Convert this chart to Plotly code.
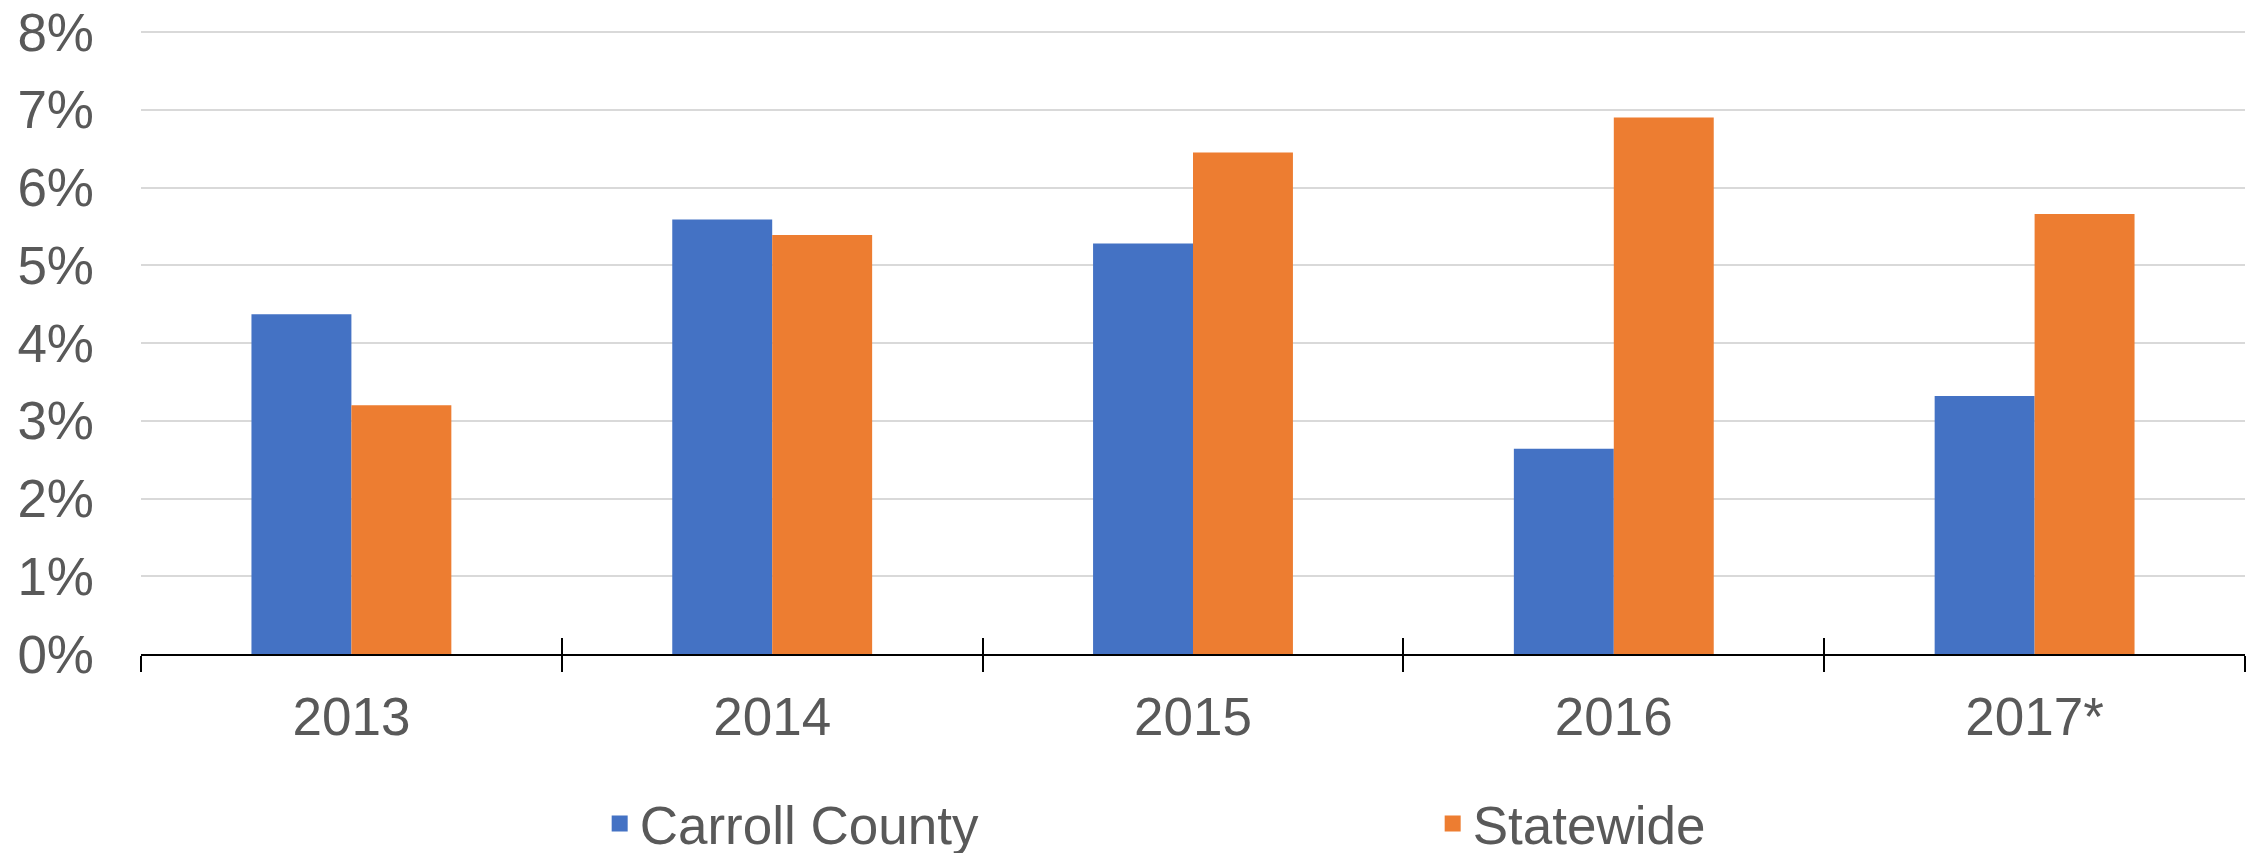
import plotly.graph_objects as go

years = ["2013", "2014", "2015", "2016", "2017*"]
carroll = [4.37, 5.59, 5.28, 2.64, 3.32]
statewide = [3.20, 5.39, 6.45, 6.90, 5.66]
series_names = ["Carroll County", "Statewide"]
colors = ["#4472C4", "#ED7D31"]
y_ticks = [0, 1, 2, 3, 4, 5, 6, 7, 8]
y_tick_text = [f"{v}%" for v in y_ticks]

FONT = "Liberation Sans, Arial, sans-serif"
GREY = "#595959"

fig = go.Figure()
for name, vals, col in zip(series_names, [carroll, statewide], colors):
    fig.add_trace(go.Bar(x=years, y=vals, name=name, legendgroup=name, showlegend=False,
                         marker=dict(color=col, line=dict(width=0))))
# legend entries (square swatches) for the two bar series
for name, col in zip(series_names, colors):
    fig.add_trace(go.Scatter(x=[None], y=[None], name=name, legendgroup=name, mode="markers",
                             marker=dict(symbol="square", size=16, color=col), hoverinfo="skip"))

# helper trace for the upper half of the crossing category ticks
fig.add_trace(go.Scatter(x=years, y=[None] * len(years), xaxis="x2", showlegend=False,
                         hoverinfo="skip", mode="markers"))

fig.update_layout(
    width=2255, height=853,
    margin=dict(l=133, r=18, t=22, b=207, autoexpand=False),
    paper_bgcolor="white", plot_bgcolor="white",
    barmode="group", bargap=0.525, bargroupgap=0,
    font=dict(family=FONT, size=53, color=GREY),
    showlegend=True,
    legend=dict(orientation="h", x=0.218, xanchor="left", y=-0.206, yanchor="top",
                font=dict(size=53, color=GREY), entrywidth=788, entrywidthmode="pixels",
                traceorder="normal", bgcolor="rgba(0,0,0,0)"),
    xaxis=dict(type="category", categoryorder="array", categoryarray=years,
               showline=True, linecolor="black", linewidth=2,
               ticks="outside", ticklen=16, tickwidth=2, tickcolor="black",
               tickson="boundaries", showgrid=False, zeroline=False, automargin=False,
               tickfont=dict(size=53, color=GREY), ticklabelstandoff=15),
    xaxis2=dict(type="category", categoryorder="array", categoryarray=years,
                overlaying="x", matches="x", anchor="y", side="bottom",
                ticks="inside", ticklen=16, tickwidth=2, tickcolor="black",
                tickson="boundaries", showticklabels=False, showgrid=False,
                showline=False, zeroline=False),
    yaxis=dict(range=[0, 8.026], tickvals=y_ticks, ticktext=y_tick_text,
               showgrid=True, gridcolor="#D9D9D9", gridwidth=2,
               zeroline=False, showline=False, ticks="", automargin=False,
               ticklabeloverflow="allow",
               tickfont=dict(size=53, color=GREY), ticklabelstandoff=46),
)

fig.write_html("out.html")
